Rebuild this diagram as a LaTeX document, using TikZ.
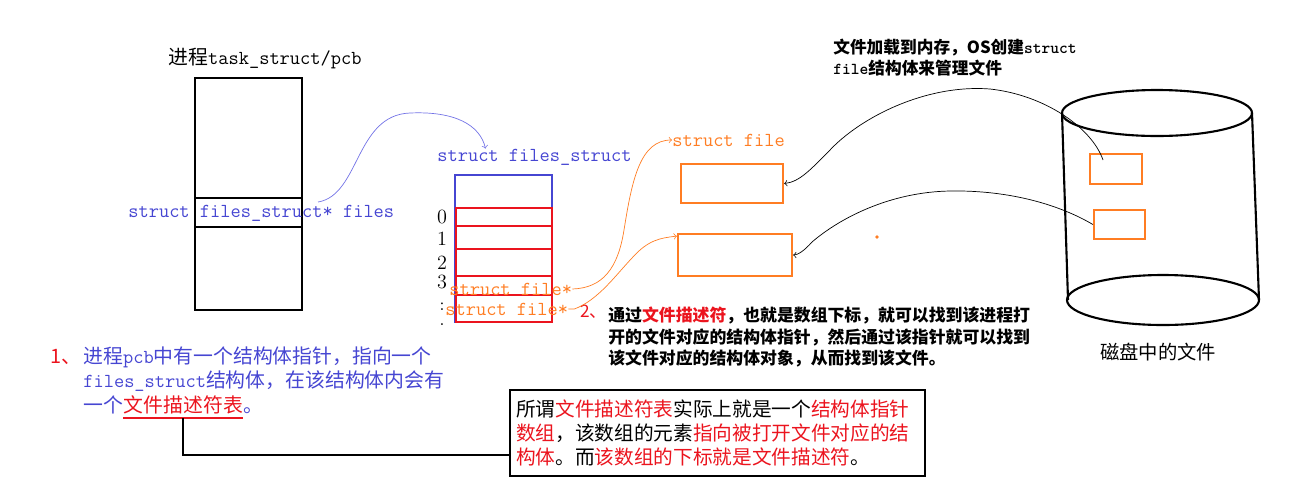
\documentclass[tikz,border=0pt]{standalone}
\usepackage{fontspec}
\newfontfamily\cjk{Noto Sans CJK SC}
\usetikzlibrary{arrows,positioning}
\definecolor{R}{RGB}{235, 20, 30}
\definecolor{B}{RGB}{70, 70, 210}
\definecolor{LB}{RGB}{115, 115, 230}
\definecolor{O}{RGB}{255, 125, 35}
\tikzset{
  code/.style={font=\ttfamily\fontsize{11.3pt}{13pt}\selectfont, inner sep=0pt, anchor=west},
  txt/.style={font=\cjk\fontsize{11.3pt}{13.6pt}\selectfont, inner sep=0pt, align=left},
  filebox/.style={draw=O, line width=1.3pt, inner sep=0pt},
}

\begin{document}
\begin{tikzpicture}[x=0.02cm, y=-0.02cm]
\useasboundingbox (0,0) rectangle (1294,498);

% pcb
\node[txt] (pcbtitle) at (265,58) {进程\texttt{task\_struct/pcb}};
\draw[line width=1.2pt] (195,78) rectangle (302,310);
\draw[line width=1.2pt] (195,198) -- (302,198) (195,227) -- (302,227);
\node[code, B] (filesptr) at (128,213) {struct files\_struct* files};
\coordinate (pstart) at (318,202);

% files_struct
\node[code, B] (fsname) at (437,157) {struct files\_struct};
\draw[B, line width=1.1pt] (455,175) rectangle (552,322);
\draw[R, line width=1.3pt] (456,208) rectangle (552,322);
\foreach \y in {226,249,276,295}
  \draw[R, line width=1.3pt] (456,\y) -- (552,\y);
\foreach \i/\y in {0/217,1/239,2/263,3/282}
  \node[font=\fontsize{11.5pt}{12pt}\selectfont, inner sep=0pt] (idx\i) at (442,\y) {\i};
\node[inner sep=0pt] (idxa) at (442,307) {:};
\node[inner sep=0pt] (idxb) at (442,325) {.};
\node[code, O] (sfA) at (449,289) {struct file*};
\node[code, O] (sfB) at (445,309) {struct file*};
\node[txt, R, anchor=west, font=\cjk\fontsize{9.8pt}{12pt}\selectfont] (num2) at (580,312) {2、};

% struct file
\node[code, O] (sfile) at (672,140) {struct file};
\node[filebox, minimum width=2.04cm, minimum height=0.78cm] (fileA) at (732,183.5) {};
\node[filebox, minimum width=2.28cm, minimum height=0.84cm] (fileB) at (735,255) {};
\fill[O] (877,237) circle (1.1pt);

% disk
\draw[line width=1.2pt] (1157,113) ellipse [x radius=95, y radius=23];
\draw[line width=1.2pt] (1062,113) -- (1068,300) (1252,113) -- (1259,300);
\draw[line width=1.2pt] (1163,300) ellipse [x radius=96, y radius=25];
\node[filebox, minimum width=1.04cm, minimum height=0.6cm] (diskA) at (1116,169) {};
\node[filebox, minimum width=1.02cm, minimum height=0.58cm] (diskB) at (1119.5,224.5) {};
\coordinate (dAin) at (1103,160);
\node[txt, font=\cjk\fontsize{11pt}{13pt}\selectfont] (disklbl) at (1158,352) {磁盘中的文件};
\node[txt, anchor=west, font=\cjk\bfseries\fontsize{9.5pt}{12pt}\selectfont] (loadnote) at (833,58)
  {文件加载到内存，OS创建\texttt{struct}\\\texttt{file}结构体来管理文件};

% notes 1 and 2
\node[txt, R, anchor=west] (num1) at (50,357) {1、};
\node[txt, B, anchor=west] (para1) at (83,369)
  {进程\texttt{pcb}中有一个结构体指针，指向一个\\\texttt{files\_struct}结构体，在该结构体内会有};
\node[txt, B, anchor=west] (para1c) at (83,405) {一个};
\node[txt, R, anchor=base west] (fdtab) at (para1c.base east) {文件描述符表};
\node[txt, B, anchor=base west] (para1d) at (fdtab.base east) {。};
\draw[R, line width=1.1pt] ([yshift=-2pt]fdtab.south west) -- ([yshift=-2pt]fdtab.south east);

\node[txt, anchor=west, font=\cjk\bfseries\fontsize{9.6pt}{12.5pt}\selectfont] (para2) at (608,337)
  {通过\textcolor{R}{文件描述符}，也就是数组下标，就可以找到该进程打\\
   开的文件对应的结构体指针，然后通过该指针就可以找到\\
   该文件对应的结构体对象，从而找到该文件。};

\node[txt, draw, line width=1.2pt, font=\cjk\fontsize{11.2pt}{13.6pt}\selectfont,
  inner xsep=0.12cm, text width=8.06cm, minimum height=1.72cm] (fdbox) at (717.5,433)
  {所谓\textcolor{R}{文件描述符表}实际上就是一个\textcolor{R}{结构体指针}\\
   \textcolor{R}{数组}，该数组的元素\textcolor{R}{指向被打开文件对应的结}\\
   \textcolor{R}{构体}。而\textcolor{R}{该数组的下标就是文件描述符}。};

% connectors
\draw[line width=1.2pt] ([yshift=-2pt]fdtab.south) |- (fdbox.186);
\draw[LB, ->] (pstart) .. controls (360,195) and (355,115) .. (410,113)
  .. controls (455,111) and (480,125) .. ([xshift=-0.98cm]fsname.north);
\draw[O, ->] (sfA.east) .. controls (603,288) and (618,268) .. (624,230)
  .. controls (632,180) and (640,140) .. (sfile.west);
\draw[O, ->] (sfB.east) -- ++(6,0) .. controls (598,300) and (615,276) .. (632,258)
  .. controls (648,240) and (660,238) .. (fileB.162);
\draw[->] (dAin) .. controls (1092,128) and (1045,95) .. (990,89)
  .. controls (925,84) and (860,118) .. (830,150) .. controls (812,168) and (800,182) .. (fileA.east);
\draw[->] (diskB.west) .. controls (1060,205) and (1010,190) .. (950,191)
  .. controls (890,192) and (840,218) .. (812,242) .. controls (805,250) and (798,255) .. (fileB.east);
\end{tikzpicture}
\end{document}
